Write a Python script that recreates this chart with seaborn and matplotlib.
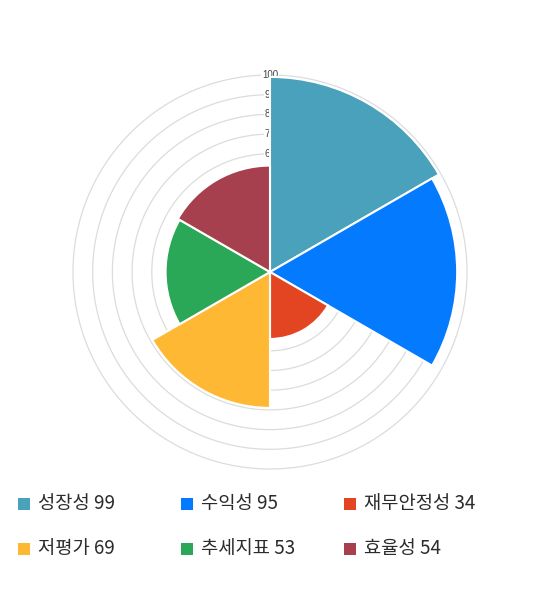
import numpy as np
import matplotlib
matplotlib.use("Agg")
import matplotlib.pyplot as plt
import seaborn as sns
from matplotlib.patches import Rectangle

# chart data
categories = ["성장성", "수익성", "재무안정성", "저평가", "추세지표", "효율성"]
scores = [99, 95, 34, 69, 53, 54]
colors = ["#4aa1bb", "#047bff", "#e34522", "#ffb833", "#2ba857", "#a7404e"]
ticks = [10, 20, 30, 40, 50, 60, 70, 80, 90, 100]

sns.set_theme(style="white")
plt.rcParams['font.family'] = ['Noto Sans CJK KR', 'DejaVu Sans']

fig = plt.figure(figsize=(5.4, 5.9), dpi=100)
ax = fig.add_axes([0.1315, 0.2017, 0.737, 0.6746], projection='polar')
ax.set_theta_zero_location('N')
ax.set_theta_direction(-1)

n = len(categories)
width = 2 * np.pi / n
theta = np.arange(n) * width
ax.bar(theta, scores, width=width, align='edge', color=colors,
       edgecolor='white', linewidth=1.5, zorder=3)

# radial grid circles with tick labels on the vertical axis
circ = np.linspace(0, 2 * np.pi, 361)
for t in ticks:
    ax.plot(circ, np.full_like(circ, t), color='#dcdcdc', lw=0.9, zorder=1)
    ax.text(0, t, str(t), ha='center', va='center', fontsize=7,
            color='#444444', family='Liberation Sans', zorder=2,
            bbox=dict(boxstyle='square,pad=0.1', fc='white', ec='none'))

ax.set_ylim(0, 101)
ax.set_xticks([])
ax.set_yticks([])
ax.grid(False)
ax.spines['polar'].set_visible(False)
ax.set_facecolor('none')

# legend, 3 columns x 2 rows
for i, (name, val, c) in enumerate(zip(categories, scores, colors)):
    row, col = divmod(i, 3)
    x0 = 18 + col * 163
    yc = 504 + row * 44.5
    fig.add_artist(Rectangle((x0 / 540, 1 - (yc + 6) / 590), 12 / 540, 12 / 590,
                             transform=fig.transFigure, color=c, lw=0))
    fig.text((x0 + 20) / 540, 1 - yc / 590, f"{name} {val}", ha='left',
             va='center', fontsize=13.5, color='#2b2b2b')

fig.savefig("out.png", dpi=100, facecolor='white')
